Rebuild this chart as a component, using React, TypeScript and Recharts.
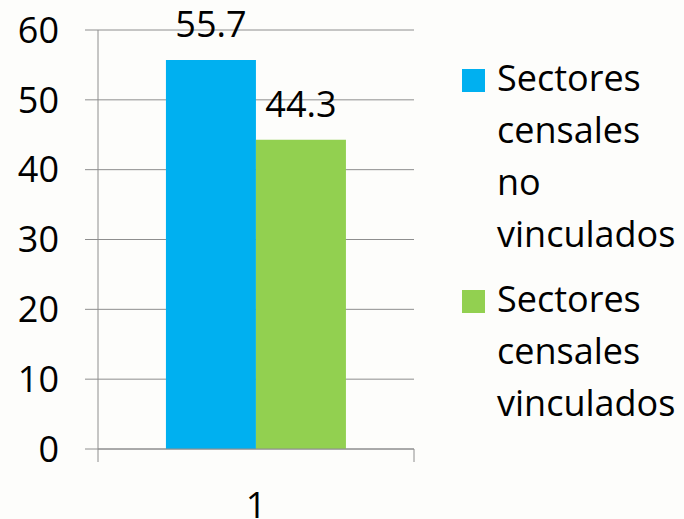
import { BarChart, Bar, XAxis, YAxis, CartesianGrid, Legend, LabelList } from 'recharts';

const categories = ['1'];
const noVinculados = [55.7];
const vinculados = [44.3];
const seriesNames = ['Sectores censales no vinculados', 'Sectores censales vinculados'];
const yTicks = [0, 10, 20, 30, 40, 50, 60];

const data = categories.map((name, i) => ({
  name,
  noVinculados: noVinculados[i],
  vinculados: vinculados[i],
}));

const CHART_W = 684;
const CHART_H = 519;
const Y_AXIS_W = 98;
const LEGEND_W = 270;
const X_TICK_MARGIN = 43;
const GRID = '#8e8e8e';
const FONT = 36;

const bandHalf = (CHART_W - LEGEND_W - Y_AXIS_W) / categories.length / 2;

function XTick(props: any) {
  const { x, y, payload } = props;
  const axisY = y - X_TICK_MARGIN;
  return (
    <g>
      <line x1={x - bandHalf} x2={x - bandHalf} y1={axisY} y2={axisY + 13} stroke={GRID} />
      <line x1={x + bandHalf} x2={x + bandHalf} y1={axisY} y2={axisY + 13} stroke={GRID} />
      <text x={x} y={y} dy="0.71em" textAnchor="middle" fontSize={FONT} fill="#000">
        {payload.value}
      </text>
    </g>
  );
}

function LegendBox(props: any) {
  const { payload = [] } = props;
  return (
    <div style={{ paddingLeft: 48, fontSize: FONT, lineHeight: '52px', color: '#000' }}>
      {payload.map((entry: any, i: number) => (
        <div key={i} style={{ display: 'flex', marginBottom: i === 0 ? 13 : 0 }}>
          <span style={{ width: 23, height: 23, marginTop: 17, background: entry.color, flex: 'none' }} />
          <span style={{ marginLeft: 12, width: 187 }}>{entry.value}</span>
        </div>
      ))}
    </div>
  );
}

export default function App() {
  return (
    <div
      style={{
        position: 'fixed',
        left: 0,
        top: 0,
        width: CHART_W,
        height: CHART_H,
        background: '#fdfdfb',
        fontFamily: '"Open Sans", sans-serif',
      }}
    >
      <BarChart
        width={CHART_W}
        height={CHART_H}
        data={data}
        margin={{ top: 30, right: 0, bottom: 10, left: 0 }}
        barCategoryGap="21.5%"
        barGap={0}
      >
        <CartesianGrid horizontal vertical={false} stroke={GRID} />
        <XAxis
          dataKey="name"
          height={60}
          axisLine={{ stroke: GRID }}
          tickLine={false}
          tickSize={0}
          tickMargin={X_TICK_MARGIN}
          tick={<XTick />}
        />
        <YAxis
          width={Y_AXIS_W}
          domain={[0, 60]}
          ticks={yTicks}
          interval={0}
          axisLine={{ stroke: GRID }}
          tickLine={{ stroke: GRID }}
          tickSize={13}
          tickMargin={26}
          tick={{ fontSize: FONT, fill: '#000' }}
        />
        <Legend
          layout="vertical"
          align="right"
          verticalAlign="top"
          wrapperStyle={{ top: 52, right: 0, width: LEGEND_W }}
          content={<LegendBox />}
        />
        <Bar dataKey="noVinculados" name={seriesNames[0]} fill="#00b0f0" isAnimationActive={false}>
          <LabelList dataKey="noVinculados" position="top" offset={23} fontSize={FONT} fill="#000" />
        </Bar>
        <Bar dataKey="vinculados" name={seriesNames[1]} fill="#92d050" isAnimationActive={false}>
          <LabelList dataKey="vinculados" position="top" offset={23} fontSize={FONT} fill="#000" />
        </Bar>
      </BarChart>
    </div>
  );
}
